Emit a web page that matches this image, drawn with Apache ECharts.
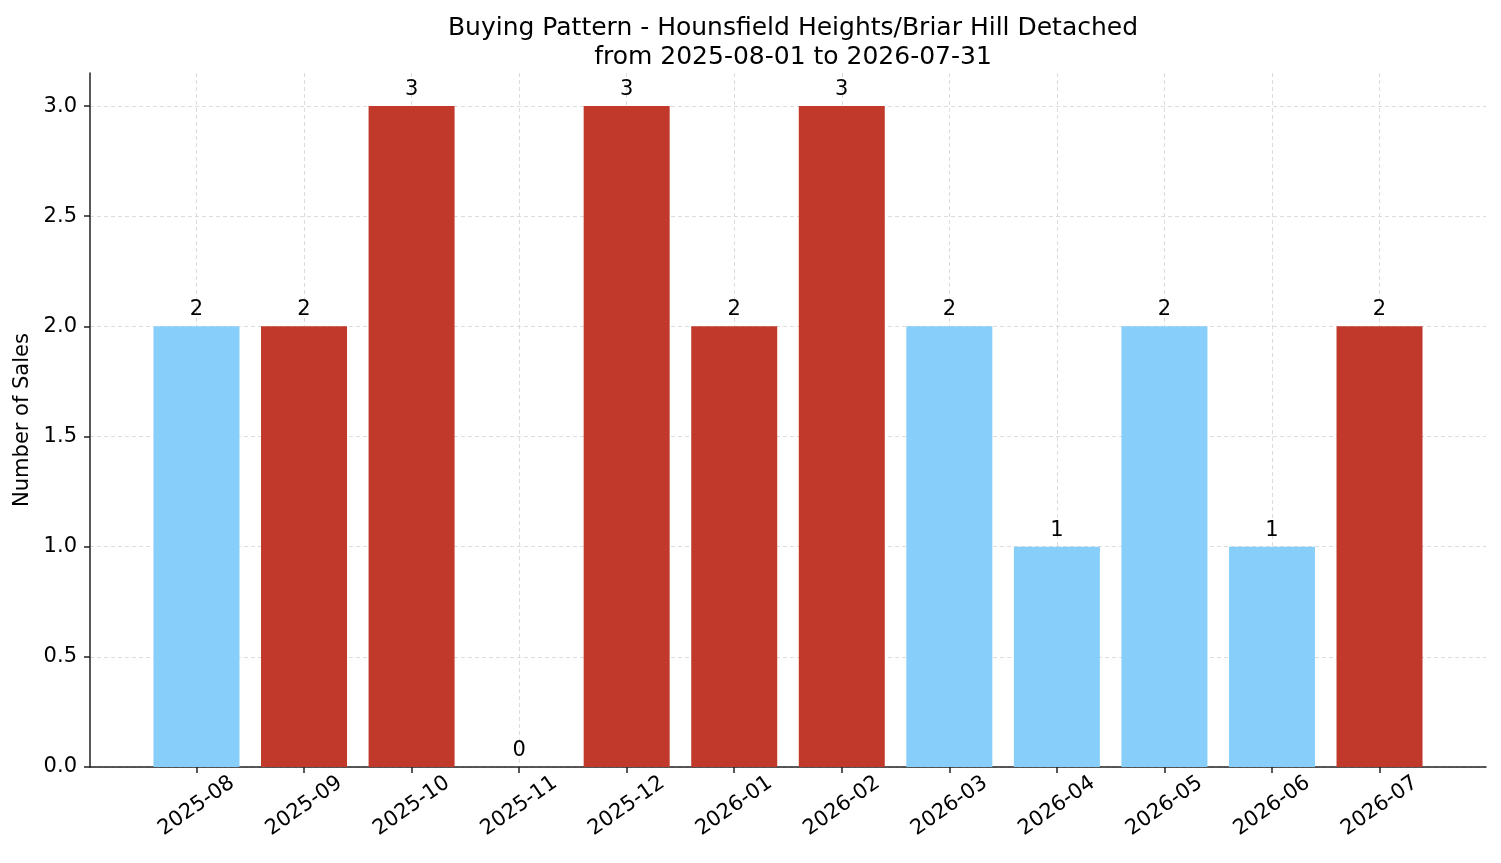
<!DOCTYPE html>
<html>
<head>
<meta charset="utf-8">
<script src="https://cdn.jsdelivr.net/npm/echarts@6/dist/echarts.min.js"></script>
<style>
  html, body { margin: 0; padding: 0; background: #fff; }
  #chart { width: 1501px; height: 863px; }
</style>
</head>
<body>
<div id="chart"></div>
<script>
  var months = ['2025-08', '2025-09', '2025-10', '2025-11', '2025-12', '2026-01',
                '2026-02', '2026-03', '2026-04', '2026-05', '2026-06', '2026-07'];
  var sales = [2, 2, 3, 0, 3, 2, 3, 2, 1, 2, 1, 2];
  var barColors = ['#87cefa', '#c0392b', '#c0392b', '#c0392b', '#c0392b', '#c0392b',
                   '#c0392b', '#87cefa', '#87cefa', '#87cefa', '#87cefa', '#c0392b'];
  var yTicks = [0, 0.5, 1, 1.5, 2, 2.5, 3];

  var font = 'DejaVu Sans';
  var positions = months.map(function (m, i) { return i; });
  var gridLine = { show: true, lineStyle: { color: '#d3d3d3', type: [4, 3], width: 0.8 } };

  var chart = echarts.init(document.getElementById('chart'));
  var option = {
    animation: false,
    backgroundColor: '#fff',
    title: {
      text: 'Buying Pattern - Hounsfield Heights/Briar Hill Detached\nfrom 2025-08-01 to 2026-07-31',
      left: 788,
      top: 9,
      textAlign: 'center',
      textStyle: {
        fontFamily: font,
        fontSize: 25,
        fontWeight: 'normal',
        color: '#000',
        lineHeight: 29
      }
    },
    grid: { left: 90, right: 15, top: 73, bottom: 96 },
    xAxis: {
      type: 'value',
      min: -0.99,
      max: 11.99,
      axisLine: { show: true, onZero: false, lineStyle: { color: '#222', width: 1.5 } },
      axisTick: { show: true, length: 6, lineStyle: { color: '#222', width: 1.5 }, customValues: positions },
      axisLabel: {
        customValues: positions,
        formatter: function (v) { return months[Math.round(v)]; },
        rotate: 35,
        align: 'center',
        verticalAlign: 'middle',
        margin: 39,
        fontFamily: font,
        fontSize: 21,
        color: '#000'
      },
      splitLine: gridLine
    },
    yAxis: {
      type: 'value',
      min: 0,
      max: 3.15,
      name: 'Number of Sales',
      nameLocation: 'middle',
      nameGap: 57,
      nameTextStyle: { fontFamily: font, fontSize: 21, color: '#000' },
      axisLine: { show: true, onZero: false, lineStyle: { color: '#222', width: 1.5 } },
      axisTick: { show: true, length: 6, lineStyle: { color: '#222', width: 1.5 }, customValues: yTicks },
      axisLabel: {
        customValues: yTicks,
        formatter: function (v) { return v.toFixed(1); },
        margin: 13,
        fontFamily: font,
        fontSize: 21,
        color: '#000'
      },
      splitLine: gridLine
    },
    series: [{
      type: 'bar',
      barWidth: 86,
      data: sales.map(function (v, i) {
        return { value: [i, v], itemStyle: { color: barColors[i] } };
      }),
      label: {
        show: true,
        position: 'top',
        distance: 6,
        formatter: function (p) { return p.value[1]; },
        fontFamily: font,
        fontSize: 21,
        color: '#000'
      }
    }]
  };
  chart.setOption(option);
</script>
</body>
</html>
